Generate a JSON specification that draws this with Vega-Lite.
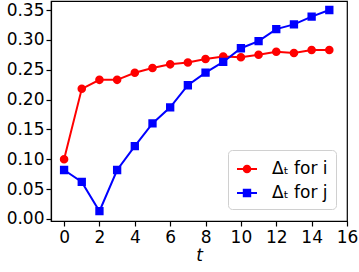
{
  "$schema": "https://vega.github.io/schema/vega-lite/v6.json",
  "width": 296,
  "height": 220,
  "autosize": "none",
  "padding": {"left": 51, "top": 1, "right": 12, "bottom": 51},
  "background": "white",
  "config": {
    "font": "DejaVu Sans",
    "view": {"stroke": "black", "strokeWidth": 1.2},
    "axis": {
      "grid": false,
      "domainColor": "black",
      "domainWidth": 1.2,
      "tickColor": "black",
      "tickWidth": 1.2,
      "tickSize": 5,
      "labelFont": "DejaVu Sans",
      "labelFontSize": 17,
      "labelColor": "black",
      "labelPadding": 3,
      "labelFlush": false,
      "labelOverlap": false,
      "titleFont": "DejaVu Sans",
      "titleFontSize": 17,
      "titleFontWeight": "normal",
      "titleColor": "black"
    }
  },
  "data": {
    "values": [
      {"t": 0, "v": 0.100, "s": "Δₜ for i"},
      {"t": 1, "v": 0.218, "s": "Δₜ for i"},
      {"t": 2, "v": 0.233, "s": "Δₜ for i"},
      {"t": 3, "v": 0.233, "s": "Δₜ for i"},
      {"t": 4, "v": 0.245, "s": "Δₜ for i"},
      {"t": 5, "v": 0.253, "s": "Δₜ for i"},
      {"t": 6, "v": 0.259, "s": "Δₜ for i"},
      {"t": 7, "v": 0.262, "s": "Δₜ for i"},
      {"t": 8, "v": 0.268, "s": "Δₜ for i"},
      {"t": 9, "v": 0.272, "s": "Δₜ for i"},
      {"t": 10, "v": 0.271, "s": "Δₜ for i"},
      {"t": 11, "v": 0.275, "s": "Δₜ for i"},
      {"t": 12, "v": 0.280, "s": "Δₜ for i"},
      {"t": 13, "v": 0.278, "s": "Δₜ for i"},
      {"t": 14, "v": 0.283, "s": "Δₜ for i"},
      {"t": 15, "v": 0.283, "s": "Δₜ for i"},
      {"t": 0, "v": 0.082, "s": "Δₜ for j"},
      {"t": 1, "v": 0.062, "s": "Δₜ for j"},
      {"t": 2, "v": 0.013, "s": "Δₜ for j"},
      {"t": 3, "v": 0.082, "s": "Δₜ for j"},
      {"t": 4, "v": 0.122, "s": "Δₜ for j"},
      {"t": 5, "v": 0.160, "s": "Δₜ for j"},
      {"t": 6, "v": 0.187, "s": "Δₜ for j"},
      {"t": 7, "v": 0.224, "s": "Δₜ for j"},
      {"t": 8, "v": 0.245, "s": "Δₜ for j"},
      {"t": 9, "v": 0.263, "s": "Δₜ for j"},
      {"t": 10, "v": 0.286, "s": "Δₜ for j"},
      {"t": 11, "v": 0.298, "s": "Δₜ for j"},
      {"t": 12, "v": 0.318, "s": "Δₜ for j"},
      {"t": 13, "v": 0.326, "s": "Δₜ for j"},
      {"t": 14, "v": 0.339, "s": "Δₜ for j"},
      {"t": 15, "v": 0.350, "s": "Δₜ for j"}
    ]
  },
  "encoding": {
    "x": {
      "field": "t", "type": "quantitative",
      "scale": {"domain": [-0.74, 16], "nice": false, "zero": false},
      "axis": {"values": [0, 2, 4, 6, 8, 10, 12, 14, 16], "title": "t", "titleFontStyle": "italic", "titlePadding": 2}
    },
    "y": {
      "field": "v", "type": "quantitative",
      "scale": {"domain": [-0.0034, 0.3651], "nice": false, "zero": false},
      "axis": {"values": [0, 0.05, 0.1, 0.15, 0.2, 0.25, 0.3, 0.35], "format": ".2f", "title": null, "labelPadding": 2}
    },
    "color": {
      "field": "s", "type": "nominal",
      "scale": {"domain": ["Δₜ for i", "Δₜ for j"], "range": ["#ff0000", "#0000ff"]},
      "legend": {
        "title": null,
        "orient": "none",
        "legendX": 177,
        "legendY": 149,
        "padding": 8,
        "strokeColor": "#d0d0d0",
        "fillColor": "rgba(255,255,255,0.8)",
        "cornerRadius": 4,
        "labelFont": "DejaVu Sans",
        "labelFontSize": 17,
        "labelColor": "black",
        "labelOffset": 14,
        "rowPadding": 5,
        "symbolSize": 400,
        "symbolStrokeWidth": 2,
        "symbolOpacity": 1,
        "encode": {
          "symbols": {
            "update": {
              "fill": {"scale": "color", "field": "value"},
              "stroke": {"scale": "color", "field": "value"},
              "strokeWidth": {"value": 2},
              "size": {"value": 400},
              "opacity": {"value": 1}
            }
          }
        }
      }
    },
    "shape": {
      "field": "s", "type": "nominal",
      "scale": {"domain": ["Δₜ for i", "Δₜ for j"], "range": ["M-1,0H1M-0.33,0A0.33,0.33,0,1,0,0.33,0A0.33,0.33,0,1,0,-0.33,0Z", "M-1,0H1M-0.32,-0.32H0.32V0.32H-0.32Z"]},
      "legend": {
        "title": null,
        "orient": "none",
        "legendX": 177,
        "legendY": 149
      }
    }
  },
  "layer": [
    {"mark": {"type": "line", "strokeWidth": 2}},
    {"mark": {"type": "point", "filled": true, "opacity": 1, "size": 676, "strokeWidth": 0}}
  ]
}
